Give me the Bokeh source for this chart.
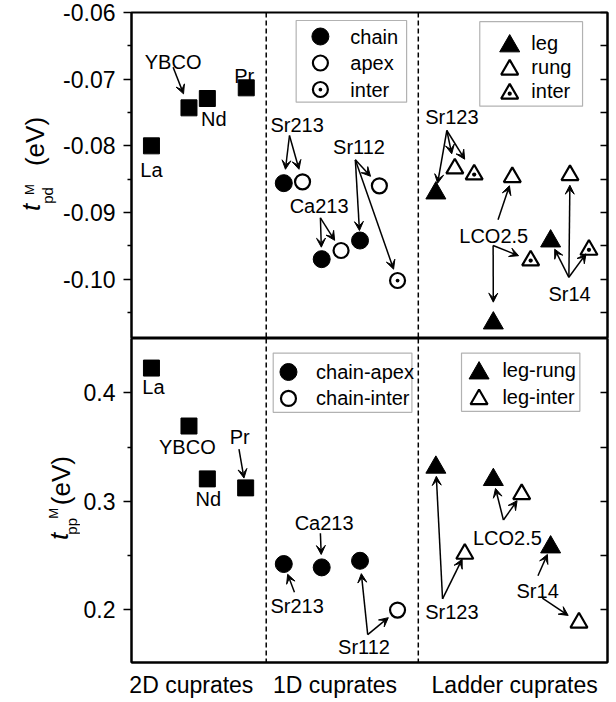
import math
from bokeh.plotting import figure
from bokeh.models import (Range1d, FixedTicker, LinearAxis, PrintfTickFormatter, Span, Label,
                          LabelSet, Arrow, VeeHead, ColumnDataSource, BoxAnnotation)
from bokeh.layouts import column, row
from bokeh.core.properties import value
from bokeh.embed import file_html
from bokeh.resources import INLINE

FONT = "Liberation Sans"

# ---------------- data ----------------
groups = ["2D cuprates", "1D cuprates", "Ladder cuprates"]
group_label_x = [3.0, 10.2, 19.2]
group_dividers = [6.75, 14.37]

names_2d = ["La", "YBCO", "Nd", "Pr"]
x_2d_pd = [1.0, 2.88, 3.8, 5.75]
tpd_2d = [-0.0800, -0.0743, -0.0729, -0.0713]
x_2d_pp = [1.0, 2.88, 3.8, 5.72]
tpp_2d = [0.4229, 0.3694, 0.3206, 0.3123]

names_1d = ["Sr213", "Ca213", "Sr112"]
x_chain = [7.63, 9.53, 11.45]
tpd_chain = [-0.0856, -0.0970, -0.0942]
x_apex = [8.57, 10.50, 12.42]
tpd_apex = [-0.0854, -0.0957, -0.0860]
x_inter1d = [13.33]
tpd_inter1d = [-0.1002]

x_chain_apex = [7.63, 9.53, 11.45]
tpp_chain_apex = [0.2420, 0.2389, 0.2450]
x_chain_inter = [13.33]
tpp_chain_inter = [0.1995]

names_lad = ["Sr123", "LCO2.5", "Sr14"]
x_leg = [15.25, 18.13, 21.00]
tpd_leg = [-0.0871, -0.1066, -0.0943]
x_rung = [16.20, 19.08, 21.97]
tpd_rung = [-0.0834, -0.0847, -0.0844]
x_interL = [17.17, 20.00, 22.92]
tpd_interL = [-0.0843, -0.0972, -0.0956]

x_leg_rung = [15.25, 18.13, 21.00]
tpp_leg_rung = [0.3312, 0.3198, 0.2576]
x_leg_inter = [16.70, 19.55, 22.42]
tpp_leg_inter = [0.2514, 0.3065, 0.1879]

tpd_major = [-0.10, -0.09, -0.08, -0.07, -0.06]
tpd_minor = [-0.105, -0.095, -0.085, -0.075, -0.065]
tpp_major = [0.2, 0.3, 0.4]
tpp_minor = [0.25, 0.35]

top_labels_text = ["La", "YBCO", "Nd", "Pr", "Sr213", "Ca213", "Sr112", "Sr123", "LCO2.5", "Sr14"]
top_labels_x = [1.0, 2.085, 4.125, 5.65, 8.3, 9.4, 11.4, 16.05, 18.15, 21.95]
top_labels_y = [-0.08356, -0.06746, -0.07590, -0.06945, -0.07680, -0.08896, -0.08021,
                -0.07571, -0.09346, -0.10221]
bot_labels_text = ["La", "YBCO", "Nd", "Pr", "Ca213", "Sr213", "Sr112", "Sr123", "LCO2.5", "Sr14"]
bot_labels_x = [1.1, 2.8, 3.85, 5.425, 9.65, 8.3, 11.65, 16.05, 18.835, 20.35]
bot_labels_y = [0.4055, 0.3505, 0.3016, 0.3591, 0.2802, 0.2037, 0.1655, 0.1976, 0.2664, 0.2174]

# arrows: start x, start y, target series, target index, gap before target (px)
top_arrows = [
    (2.085, -0.06821, "2d", 1, 15),
    (7.915, -0.07845, "chain", 0, 14),
    (7.915, -0.07845, "apex", 0, 13),
    (9.465, -0.09080, "chain", 1, 12),
    (9.465, -0.09080, "apex", 1, 12),
    (11.215, -0.08210, "apex", 2, 13),
    (11.215, -0.08210, "chain", 2, 10),
    (11.215, -0.08210, "inter1d", 0, 12),
    (15.80, -0.07770, "leg", 0, 10),
    (15.80, -0.07770, "rung", 0, 15),
    (15.80, -0.07770, "interL", 0, 18),
    (18.365, -0.09110, "rung", 1, 9),
    (18.12, -0.09496, "interL", 1, 13),
    (18.12, -0.09496, "leg", 1, 21),
    (21.915, -0.09972, "leg", 2, 9),
    (21.915, -0.09972, "rung", 2, 10),
    (21.915, -0.09972, "interL", 2, 5),
]
bot_arrows = [
    (5.385, 0.3481, "2d", 3, 10),
    (9.465, 0.2704, "ca", 1, 13),
    (8.165, 0.2160, "ca", 0, 11),
    (11.835, 0.1768, "ca", 2, 13),
    (11.835, 0.1768, "ci", 0, 12),
    (15.585, 0.2098, "lr", 0, 9),
    (15.585, 0.2098, "li", 0, 6),
    (18.635, 0.2826, "lr", 1, 9),
    (18.635, 0.2826, "li", 1, 8),
    (20.365, 0.2312, "lr", 2, 8),
    (20.585, 0.2105, "li", 2, 13),
]

# ---------------- layout constants (page pixels) ----------------
X_RANGE = (0.0, 23.85)
FRAME_W, FRAME_H = 477, 326
FRAME_LEFT = 130
RIGHT = 8
TOP_BORDER = 12
BOT_AXIS = 36
TOP_Y = (-0.1089, -0.06)
BOT_Y = (0.1511, 0.4502)
TITLE_W_TOP, TITLE_W_BOT = 60, 80

PX_X = FRAME_W / (X_RANGE[1] - X_RANGE[0])
PX_Y_TOP = FRAME_H / (TOP_Y[1] - TOP_Y[0])
PX_Y_BOT = FRAME_H / (BOT_Y[1] - BOT_Y[0])


def X(px):
    return X_RANGE[0] + (px - FRAME_LEFT) / PX_X


def YT(py):
    return TOP_Y[1] - (py - TOP_BORDER) / PX_Y_TOP


def YB(py):
    return BOT_Y[1] - (py - (TOP_BORDER + FRAME_H)) / PX_Y_BOT


def make_fig(yr, height, top, bottom, left, with_x):
    p = figure(width=left + FRAME_W + RIGHT, height=height,
               x_range=Range1d(*X_RANGE), y_range=Range1d(*yr),
               output_backend="svg", toolbar_location=None,
               min_border_left=left, min_border_right=RIGHT,
               min_border_top=top, min_border_bottom=bottom,
               x_axis_location="below" if with_x else None)
    p.grid.visible = False
    p.outline_line_color = "black"
    p.outline_line_width = 2
    p.background_fill_color = "white"
    p.border_fill_color = "white"
    return p


def title_fig(width, height, yr, top, bottom, parts, Yf):
    f = figure(width=width, height=height, x_range=Range1d(0, width), y_range=Range1d(*yr),
               output_backend="svg", toolbar_location=None, min_border_left=0,
               min_border_right=0, min_border_top=top, min_border_bottom=bottom,
               x_axis_location=None, y_axis_location=None)
    f.grid.visible = False
    f.outline_line_color = None
    f.background_fill_color = "white"
    f.border_fill_color = "white"
    for txt, px, py, size, style in parts:
        f.text(x=[px], y=[Yf(py)], text=[txt], angle=math.pi / 2, text_align="center",
               text_baseline="middle", text_font=value(FONT), text_font_size=value(size),
               text_font_style=value(style), text_color="black")
    return f


def style_y(p, major, minor, fmt):
    ax = p.yaxis[0]
    ax.ticker = FixedTicker(ticks=major, minor_ticks=minor)
    ax.formatter = PrintfTickFormatter(format=fmt)
    ax.major_tick_out = 8
    ax.major_tick_in = 0
    ax.minor_tick_out = 4
    ax.minor_tick_in = 0
    ax.axis_line_width = 2
    ax.major_tick_line_width = 1.5
    ax.minor_tick_line_width = 1.5
    ax.major_label_text_font = FONT
    ax.major_label_text_font_size = "23px"
    ax.major_label_text_color = "black"
    ax.major_label_standoff = 8
    ticks = sorted(major + minor)
    rax = LinearAxis(ticker=FixedTicker(ticks=ticks), major_tick_in=7, major_tick_out=0,
                     minor_tick_in=0, minor_tick_out=0, major_label_standoff=0,
                     major_label_text_font_size="0px",
                     major_label_overrides={t: "" for t in ticks},
                     axis_line_width=2, major_tick_line_width=1.5)
    p.add_layout(rax, "right")


def dividers(p):
    for d in group_dividers:
        p.add_layout(Span(location=d, dimension="height", line_color="black",
                          line_dash="5 3", line_width=1.5))


def add_arrows(p, arrows, series, px_y):
    x0s, y0s, x1s, y1s = [], [], [], []
    for sx, sy, key, idx, gap in arrows:
        tx, ty = series[key][0][idx], series[key][1][idx]
        dx, dy = (tx - sx) * PX_X, (ty - sy) * px_y
        L = math.hypot(dx, dy)
        f = (L - gap) / L
        x0s.append(sx)
        y0s.append(sy)
        x1s.append(sx + (tx - sx) * f)
        y1s.append(sy + (ty - sy) * f)
    src = ColumnDataSource(dict(x0=x0s, y0=y0s, x1=x1s, y1=y1s))
    p.add_layout(Arrow(source=src, x_start="x0", y_start="y0", x_end="x1", y_end="y1",
                       line_color="black", line_width=1.5,
                       end=VeeHead(size=9, fill_color="black", line_color="black", line_width=1)))


def add_labels(p, texts, xs, ys):
    src = ColumnDataSource(dict(x=xs, y=ys, t=texts))
    p.add_layout(LabelSet(source=src, x="x", y="y", text="t", text_align="center",
                          text_baseline="middle", text_font=value(FONT),
                          text_font_size=value("20px"), text_color="black"))


def manual_legend(p, box, key_dx, text_dx, row0, pitch, entries, Yf):
    l, r, t, b = box
    p.add_layout(BoxAnnotation(left=X(l), right=X(r), top=Yf(t), bottom=Yf(b),
                               fill_color=None, line_color="black", line_width=1.2))
    for i, (label, marker, size, fill, lw) in enumerate(entries):
        py = t + row0 + i * pitch
        dy = size * 0.144 if marker.startswith("triangle") else 0.0
        p.scatter([X(l + key_dx)], [Yf(py + dy)], marker=marker, size=size, fill_color=fill,
                  line_color="black", line_width=lw)
        p.add_layout(Label(x=X(l + text_dx), y=Yf(py), text=label, text_align="left",
                           text_baseline="middle", text_font=FONT, text_font_size="20px",
                           text_color="black"))


blk = dict(line_color="black")

# ---------------- top panel: t_pd ----------------
H_TOP = TOP_BORDER + FRAME_H
p1 = make_fig(TOP_Y, H_TOP, TOP_BORDER, 0, FRAME_LEFT - TITLE_W_TOP, False)
style_y(p1, tpd_major, tpd_minor, "%.2f")
dividers(p1)

p1.scatter(x_2d_pd, tpd_2d, marker="square", size=16, fill_color="black", **blk)
p1.scatter(x_chain, tpd_chain, marker="circle", size=17, fill_color="black", **blk)
p1.scatter(x_apex, tpd_apex, marker="circle", size=15, fill_color="white", line_width=2.2, **blk)
p1.scatter(x_inter1d, tpd_inter1d, marker="circle_dot", size=15, fill_color="white",
           line_width=2.2, **blk)
p1.scatter(x_leg, tpd_leg, marker="triangle", size=20, fill_color="black", **blk)
p1.scatter(x_rung, tpd_rung, marker="triangle", size=17, fill_color="white", line_width=2.2, **blk)
p1.scatter(x_interL, tpd_interL, marker="triangle_dot", size=17, fill_color="white",
           line_width=2.2, **blk)

top_series = {"2d": (x_2d_pd, tpd_2d), "chain": (x_chain, tpd_chain), "apex": (x_apex, tpd_apex),
              "inter1d": (x_inter1d, tpd_inter1d), "leg": (x_leg, tpd_leg),
              "rung": (x_rung, tpd_rung), "interL": (x_interL, tpd_interL)}
add_arrows(p1, top_arrows, top_series, PX_Y_TOP)
add_labels(p1, top_labels_text, top_labels_x, top_labels_y)

manual_legend(p1, (295, 405.7, 20, 101.7), 24.3, 54.3, 16, 26.5,
              [("chain", "circle", 17, "black", 1),
               ("apex", "circle", 15, "white", 2.2),
               ("inter", "circle_dot", 15, "white", 2.2)], YT)
manual_legend(p1, (479, 582, 21.2, 105.7), 30, 51.7, 21.5, 24,
              [("leg", "triangle", 20, "black", 1),
               ("rung", "triangle", 17, "white", 2.2),
               ("inter", "triangle_dot", 17, "white", 2.2)], YT)

t1 = title_fig(TITLE_W_TOP, H_TOP, TOP_Y, TOP_BORDER, 0,
               [("t", 30, 207, "26px", "italic"),
                ("pd", 47, 195, "15px", "normal"),
                ("M", 29, 189, "13px", "normal"),
                ("(eV)", 34, 141, "26px", "normal")], YT)

# ---------------- bottom panel: t_pp ----------------
H_BOT = FRAME_H + BOT_AXIS
p2 = make_fig(BOT_Y, H_BOT, 0, BOT_AXIS, FRAME_LEFT - TITLE_W_BOT, True)
style_y(p2, tpp_major, tpp_minor, "%.1f")
dividers(p2)

p2.scatter(x_2d_pp, tpp_2d, marker="square", size=16, fill_color="black", **blk)
p2.scatter(x_chain_apex, tpp_chain_apex, marker="circle", size=17, fill_color="black", **blk)
p2.scatter(x_chain_inter, tpp_chain_inter, marker="circle", size=15, fill_color="white",
           line_width=2.2, **blk)
p2.scatter(x_leg_rung, tpp_leg_rung, marker="triangle", size=20, fill_color="black", **blk)
p2.scatter(x_leg_inter, tpp_leg_inter, marker="triangle", size=17, fill_color="white",
           line_width=2.2, **blk)

bot_series = {"2d": (x_2d_pp, tpp_2d), "ca": (x_chain_apex, tpp_chain_apex),
              "ci": (x_chain_inter, tpp_chain_inter), "lr": (x_leg_rung, tpp_leg_rung),
              "li": (x_leg_inter, tpp_leg_inter)}
add_arrows(p2, bot_arrows, bot_series, PX_Y_BOT)
add_labels(p2, bot_labels_text, bot_labels_x, bot_labels_y)

manual_legend(p2, (272, 411, 352.7, 412.3), 15.3, 43, 19, 26.6,
              [("chain-apex", "circle", 17, "black", 1),
               ("chain-inter", "circle", 15, "white", 2.2)], YB)
manual_legend(p2, (460.7, 579.3, 352.7, 411.3), 17.6, 41, 17.3, 26.7,
              [("leg-rung", "triangle", 20, "black", 1),
               ("leg-inter", "triangle", 17, "white", 2.2)], YB)

xa = p2.xaxis[0]
xa.ticker = FixedTicker(ticks=group_label_x)
xa.major_label_overrides = {x: g for x, g in zip(group_label_x, groups)}
xa.major_tick_in = 0
xa.major_tick_out = 0
xa.minor_tick_in = 0
xa.minor_tick_out = 0
xa.axis_line_width = 2
xa.major_label_standoff = 9
xa.major_label_text_font = FONT
xa.major_label_text_font_size = "23px"
xa.major_label_text_color = "black"

t2 = title_fig(TITLE_W_BOT, H_BOT, BOT_Y, 0, BOT_AXIS,
               [("t", 58, 537, "26px", "italic"),
                ("pp", 70.5, 527, "15px", "normal"),
                ("M", 53, 514, "13px", "normal"),
                ("(eV)", 60, 481, "26px", "normal")], YB)

layout = column(row(t1, p1, spacing=0), row(t2, p2, spacing=0), spacing=0)
open("out.html", "w").write(file_html(layout, INLINE))
